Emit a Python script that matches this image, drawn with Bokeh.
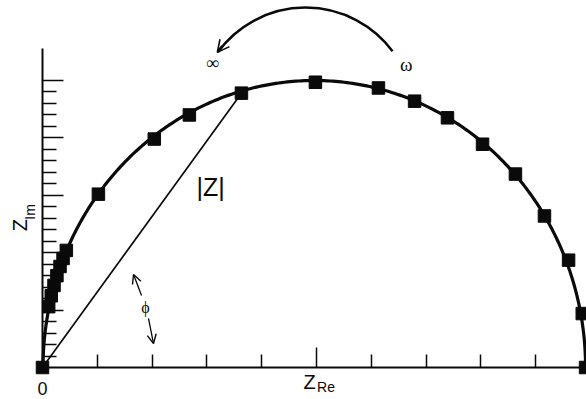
import numpy as np
from bokeh.plotting import figure
from bokeh.models import (Range1d, LinearAxis, FixedTicker, Arrow, OpenHead,
                          ColumnDataSource)
from bokeh.core.properties import value
from bokeh.embed import file_html
from bokeh.resources import INLINE

# ---------------- data ----------------
Z_RE = [0.00, 0.113, 0.16, 0.21, 0.263, 0.32, 0.375, 0.435, 1.02, 2.04, 2.68,
        3.63, 4.98, 6.13, 6.79, 7.39, 8.03, 8.63, 9.16, 9.60, 9.85, 9.91]
Z_IM = [0.00, 1.06, 1.25, 1.43, 1.60, 1.76, 1.90, 2.04, 3.02, 3.98, 4.40,
        4.78, 4.97, 4.87, 4.64, 4.35, 3.89, 3.37, 2.64, 1.87, 0.94, 0.00]
Z_VECTOR_INDEX = 11          # the point the |Z| vector goes to

# fitted semicircle (centre on the real axis)
CENTER_RE = 4.96
RADIUS_RE = 4.95
RADIUS_IM = 5.00

X_SHORT_TICKS = [1, 2, 3, 4, 6, 7, 8, 9, 10]
X_LONG_TICKS = [5]
Y_LONG_TICKS = [1, 2, 3, 4, 5]
Y_SHORT_TICKS = [0.2, 0.4, 0.6, 0.8, 1.2, 1.4, 1.6, 1.8, 2.2, 2.4, 2.6, 2.8,
                 3.2, 3.4, 3.6, 3.8, 4.2, 4.4, 4.6, 4.8]

# ---------------- figure ----------------
W, H = 586, 399
p = figure(width=W, height=H, output_backend="svg", toolbar_location=None,
           x_axis_type=None, y_axis_type=None,
           x_range=Range1d(-0.7664, 9.927), y_range=Range1d(-0.5575, 6.394),
           min_border=0, min_border_left=0, min_border_right=0,
           min_border_top=0, min_border_bottom=0)
p.outline_line_color = None
p.grid.visible = False
p.background_fill_color = "white"
p.border_fill_color = "white"

INK = "#0a0a0a"


def tick_axis(ticks, length, bounds, side, line=True):
    ax = LinearAxis(fixed_location=0,
                    ticker=FixedTicker(ticks=[], minor_ticks=ticks),
                    bounds=bounds,
                    axis_line_width=2,
                    axis_line_color=INK if line else None,
                    major_tick_in=0, major_tick_out=0,
                    minor_tick_in=length, minor_tick_out=0,
                    minor_tick_line_width=1.5, minor_tick_line_color=INK)
    p.add_layout(ax, side)


tick_axis(X_SHORT_TICKS, 13, (0, 10.5), "below")
tick_axis(X_LONG_TICKS, 20, (0, 10.5), "below", line=False)
tick_axis(Y_SHORT_TICKS, 14, (0, 5.55), "left")
tick_axis(Y_LONG_TICKS, 21, (0, 5.55), "left", line=False)

# fitted semicircle
theta = np.linspace(0, np.pi, 300)
p.line(CENTER_RE + RADIUS_RE * np.cos(theta), RADIUS_IM * np.sin(theta),
       line_color=INK, line_width=3.2)

# |Z| vector
p.line([0, Z_RE[Z_VECTOR_INDEX]], [0, Z_IM[Z_VECTOR_INDEX]],
       line_color=INK, line_width=1.7)

# data points
src = ColumnDataSource(dict(x=Z_RE, y=Z_IM))
p.scatter("x", "y", source=src, marker="square", size=12.5,
          fill_color=INK, line_color=INK)

# texts
SANS = value("Liberation Sans")
SERIF = value("Liberation Serif")
p.text(x=[0.0], y=[-0.366], text=["0"], text_font=SANS, text_font_size="18px",
       text_align="center", text_baseline="middle", text_color=INK)
p.text(x=[3.066], y=[3.153], text=["|Z|"], text_font=SANS, text_font_size="25px",
       text_align="center", text_baseline="middle", text_color=INK)
p.text(x=[4.763], y=[-0.253], text=["Z"], text_font=SANS, text_font_size="20px",
       text_align="left", text_baseline="middle", text_color=INK)
p.text(x=[5.01], y=[-0.348], text=["Re"], text_font=SANS, text_font_size="14px",
       text_align="left", text_baseline="middle", text_color=INK)
p.text(x=[-0.41], y=[2.48], text=["Z"], text_font=SANS, text_font_size="20px",
       text_align="center", text_baseline="middle", angle=np.pi / 2, text_color=INK)
p.text(x=[-0.219], y=[2.71], text=["Im"], text_font=SANS, text_font_size="14px",
       text_align="center", text_baseline="middle", angle=np.pi / 2, text_color=INK)
p.text(x=[3.10], y=[5.31], text=["∞"], text_font=SERIF, text_font_size="18px",
       text_align="center", text_baseline="middle", text_color=INK)
p.text(x=[6.64], y=[5.28], text=["ω"], text_font=SERIF, text_font_size="19px",
       text_align="center", text_baseline="middle", text_color=INK)
p.text(x=[1.88], y=[1.045], text=["ϕ"], text_font=SERIF, text_font_size="16px",
       text_align="center", text_baseline="middle", text_color=INK)

# phi angle arrows
p.add_layout(Arrow(end=OpenHead(size=9, line_width=1.4, line_color=INK),
                   x_start=1.807, y_start=1.254, x_end=1.661, y_end=1.620,
                   line_width=1.3, line_color=INK))
p.add_layout(Arrow(end=OpenHead(size=9, line_width=1.4, line_color=INK),
                   x_start=1.934, y_start=0.854, x_end=2.026, y_end=0.418,
                   line_width=1.3, line_color=INK))

# omega arc with arrow
p.arc(x=[4.80], y=[4.38], radius=108.5, radius_units="screen",
      start_angle=0.64, end_angle=2.51, direction="anticlock",
      line_color=INK, line_width=2.5)
p.add_layout(Arrow(end=OpenHead(size=12, line_width=1.6, line_color=INK),
                   x_start=3.28, y_start=5.60, x_end=3.19, y_end=5.49,
                   line_width=2.5, line_color=INK))

open("out.html", "w").write(file_html(p, INLINE))
